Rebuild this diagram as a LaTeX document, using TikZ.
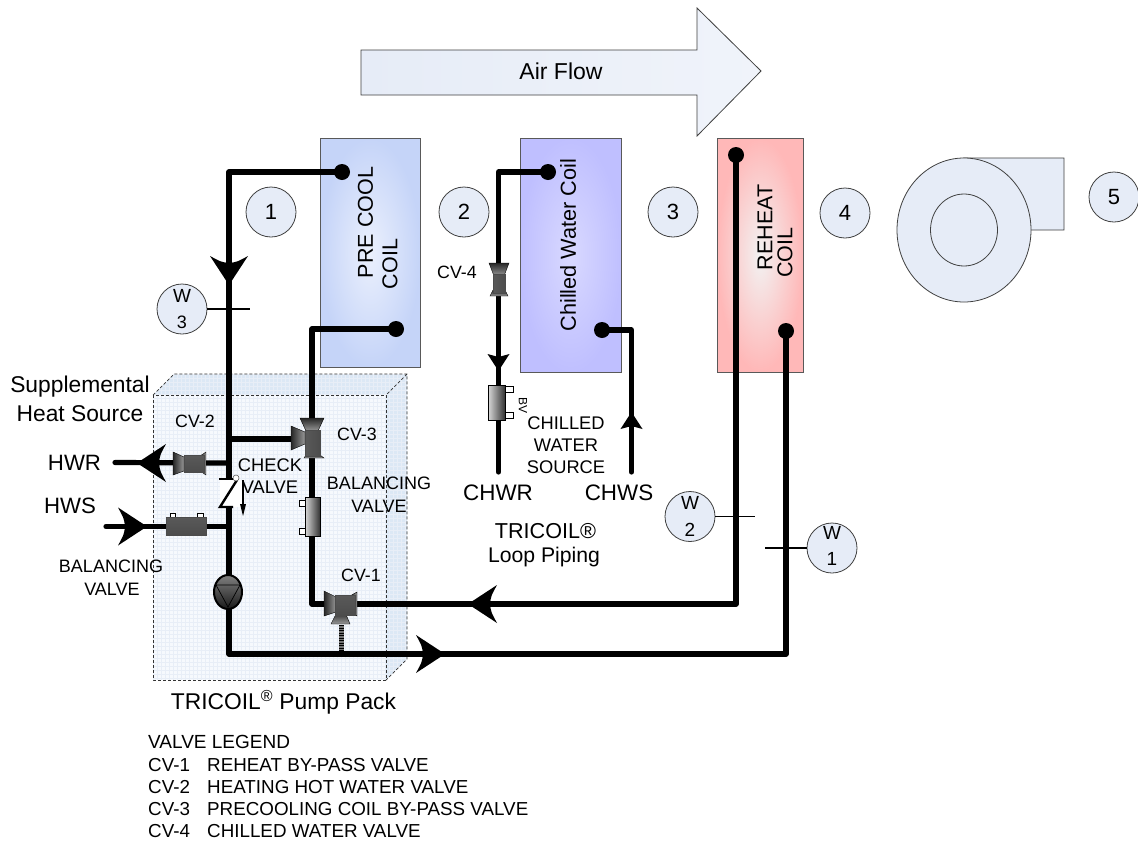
\documentclass[tikz,border=0pt]{standalone}
\usepackage{fontspec}
\setmainfont{Liberation Sans}
\newcommand{\fs}[1]{\fontsize{#1}{#1}\selectfont}
\newcommand{\pipehead}[3]{\fill[black,shift={(#1,#2)},rotate=#3] (0,0) -- (-29,19) .. controls (-23,8) .. (-22,0) .. controls (-23,-8) .. (-29,-19) -- cycle;}
\newcommand{\smallhead}[3]{\fill[black,shift={(#1,#2)},rotate=#3] (0,0) -- (-17,11) -- (-14,0) -- (-17,-11) -- cycle;}
\begin{document}
\begin{tikzpicture}[x=1pt,y=-1pt,
  pipe/.style={line width=5.2pt,line join=round,line cap=round,black},
  refcircle/.style={circle,draw=black!75,line width=0.8pt,fill=circfill,minimum size=50pt,inner sep=0pt,font=\fs{22}},
  wcircle/.style={circle,draw=black!75,line width=0.8pt,fill=circfill,minimum size=50pt,inner sep=0pt,align=center},
  lab/.style={inner sep=0pt,align=center},
  dot/.style={circle,fill=black,inner sep=0pt,minimum size=16pt},
  hbody/.style={draw=black!70,line width=0.5pt,top color=black!65,middle color=black!25,bottom color=black!70},
  vbody/.style={draw=black!70,line width=0.5pt,left color=black!65,middle color=black!25,right color=black!70},
  vbal/.style={draw=black,line width=0.5pt,left color=black!15,right color=black!80},
  funnelv/.style={draw=black,line width=0.4pt,top color=black!85,bottom color=black!40},
  funnelh/.style={draw=black,line width=0.4pt,left color=black!85,right color=black!40},
  tab/.style={draw=black,line width=1pt,fill=white}]
\definecolor{circfill}{HTML}{E6ECF7}
\definecolor{coilblue}{HTML}{C5D4F8}
\definecolor{arrowfill}{HTML}{E6ECF7}
\definecolor{boxfront}{HTML}{F6F9FD}
\definecolor{boxgrid}{HTML}{E8EEF7}
\definecolor{boxside}{HTML}{DCE8F5}
\useasboundingbox (0,0) rectangle (1138,841);
\fill[white] (0,0) rectangle (1138,841);

% air flow arrow
\draw[draw=black!75,line width=0.8pt,left color=arrowfill,right color=arrowfill!60!white] (361,50) -- (697,50) -- (697,8) -- (761,71) -- (697,136) -- (697,95) -- (361,95) -- cycle;
\node[lab,font=\fs{23}] (airflow) at (561,71) {Air Flow};

% coils
\shade[inner color=coilblue!35!white,outer color=coilblue] (320,138) rectangle (420,367);
\draw[black!65,line width=0.8pt] (320,138) rectangle (420,367);
\shade[inner color=white!85!blue,outer color=blue!25!white] (520,138) rectangle (621,372);
\draw[black!65,line width=0.8pt] (520,138) rectangle (621,372);
\shade[inner color=black!5,outer color=red!28!white] (717,138) rectangle (803,372);
\draw[black!65,line width=0.8pt] (717,138) rectangle (803,372);
\node[lab,font=\fs{21.5},rotate=90] (pre) at (365.5,222.5) {PRE COOL};
\node[lab,font=\fs{21.5},rotate=90] (precoil) at (390,264) {COIL};
\node[lab,font=\fs{21.7},rotate=90] (cwc) at (568,245) {Chilled Water Coil};
\node[lab,font=\fs{21.5},rotate=90] (reheat) at (765,227.5) {REHEAT};
\node[lab,font=\fs{21.5},rotate=90] (reheatcoil) at (785,252.5) {COIL};

% fan
\draw[black!75,line width=0.8pt,fill=circfill] (964,158) -- (1064,158) -- (1064,230) -- (1020,230) -- cycle;
\draw[black!75,line width=0.8pt,fill=circfill] (964,230) ellipse (67 and 72);
\draw[black!75,line width=0.8pt,fill=circfill] (964,230) ellipse (33.5 and 36);

% state circles
\node[refcircle] (s1) at (271,212) {1};
\node[refcircle] (s2) at (464,212) {2};
\node[refcircle] (s3) at (673,212) {3};
\node[refcircle] (s4) at (845,213) {4};
\node[refcircle] (s5) at (1114,197) {5};

% pump pack box
\fill[boxside] (153,395) -- (174,374) -- (407,374) -- (407,659) -- (386,680) -- (386,395) -- cycle;
\fill[boxfront] (153,395) rectangle (386,680);
\begin{scope}
\clip (153,395) -- (174,374) -- (407,374) -- (407,659) -- (386,680) -- (153,680) -- cycle;
\foreach \gx in {153,157,...,407} {\draw[boxgrid,line width=0.4pt] (\gx,374) -- (\gx,680);}
\foreach \gy in {374,378,...,680} {\draw[boxgrid,line width=0.4pt] (153,\gy) -- (407,\gy);}
\end{scope}
\draw[black!80,line width=0.7pt,dash pattern=on 3pt off 2pt] (153,395) rectangle (386,680);
\draw[black!80,line width=0.7pt,dash pattern=on 3pt off 2pt] (153,395) -- (174,374) -- (407,374) -- (407,659) -- (386,680) (407,374) -- (386,395);

% pipe terminals
\coordinate (pcA) at (342,172);
\coordinate (pcB) at (396,329);
\coordinate (cwA) at (548,172);
\coordinate (cwB) at (602,330);
\coordinate (rhA) at (736,155);
\coordinate (rhB) at (786,331);
\coordinate (chwr) at (498.5,472);
\coordinate (chws) at (631.5,472);
\coordinate (hwr) at (115,462.5);
\coordinate (hws) at (106,526.5);
\coordinate (tee1) at (229,439);
\coordinate (tee2) at (229,463);
\coordinate (tee3) at (229,526.5);
\coordinate (cv3) at (300,439);

% stem
\draw[black!55,line width=5pt] (341,625) -- (341,654);
\draw[black,line width=5pt,dash pattern=on 1pt off 1.5pt] (341,625) -- (341,654);

% pipes
\draw[pipe] (pcA) -| (229,654) -| (rhB);
\draw[pipe] (rhA) |- (312,604) |- (pcB);
\draw[pipe] (tee1) -- (cv3);
\draw[pipe] (hwr) -- (tee2);
\draw[pipe] (hws) -- (tee3);
\draw[pipe] (cwA) -| (chwr);
\draw[pipe] (cwB) -| (chws);
\node[dot] (dpa) at (pcA) {};
\node[dot] (dpb) at (pcB) {};
\node[dot] (dca) at (cwA) {};
\node[dot] (dcb) at (cwB) {};
\node[dot] (dra) at (rhA) {};
\node[dot] (drb) at (rhB) {};

% flow arrowheads
\pipehead{229}{285}{-90}
\pipehead{468}{604}{180}
\pipehead{445}{654}{0}
\pipehead{137}{463}{180}
\pipehead{147}{526.5}{0}
\smallhead{498.5}{371}{-90}
\smallhead{631.5}{412}{90}

% meters
\node[wcircle] (w3) at (182,309) {};
\node[wcircle] (w2) at (690,516.5) {};
\node[wcircle] (w1) at (832,548) {};
\coordinate (w3t) at (250,309);
\coordinate (w2t) at (755,516.5);
\coordinate (w1t) at (765,548);
\draw[line width=1.6pt] (w3) -- (w3t);
\draw[line width=1.6pt] (w2) -- (w2t);
\draw[line width=1.6pt] (w1) -- (w1t);
\node[lab,font=\fs{19}] (w3a) at (182,296) {W};
\node[lab,font=\fs{18}] (w3b) at (182,322) {3};
\node[lab,font=\fs{19}] (w2a) at (690,503) {W};
\node[lab,font=\fs{19}] (w2b) at (690,530) {2};
\node[lab,font=\fs{19}] (w1a) at (832,533) {W};
\node[lab,font=\fs{19}] (w1b) at (832,559) {1};

% CV-2
\draw[funnelh] (173,452) -- (184,457) -- (184,471) -- (173,475) -- cycle;
\draw[funnelh] (206,452) -- (200,456) -- (200,471) -- (206,475) -- cycle;
\draw[hbody] (184,455) rectangle (204,472);
% hws balancing
\draw[tab] (170,513) rectangle (175,518);
\draw[tab] (197,513) rectangle (203,518);
\draw[hbody] (166,517) rectangle (206,535);
% check valve
\fill[white] (220,480) rectangle (243,507);
\draw[line width=2.4pt] (219,479) -- (233,479);
\draw[line width=2.4pt,line join=miter] (237,480) -- (220,507) -- (233,507);
\draw[black!70,line width=0.5pt,fill=white] (236,478) circle (3);
\draw[line width=1.2pt] (243,480) -- (243,506);
\fill[black] (243,516) -- (240,504) -- (246,504) -- cycle;
% CV-3
\draw[funnelv] (300,418) -- (324,418) -- (318,431) -- (306,431) -- cycle;
\draw[funnelh] (291,426) -- (305,432) -- (305,444) -- (291,450) -- cycle;
\draw[funnelv] (304,458) -- (308,452) -- (316,452) -- (324,458) -- cycle;
\draw[vbody] (305,430) rectangle (320,456);
% vertical balancing
\draw[tab] (299,500) rectangle (305,506);
\draw[tab] (299,528) rectangle (305,534);
\draw[vbal] (305,497) rectangle (320,536);
% CV-1
\draw[funnelh] (324,591) -- (336,597) -- (336,612) -- (324,616) -- cycle;
\draw[funnelv] (331,624) -- (337,612) -- (345,612) -- (350,624) -- cycle;
\draw[funnelh] (357,592) -- (350,596) -- (350,612) -- (357,616) -- cycle;
\draw[hbody] (335,595) rectangle (355,615);
% pump
\draw[black,line width=2pt,top color=black!50,bottom color=black!90] (228,592) ellipse (14 and 17);
\draw[black,line width=0.7pt] (216,585) -- (240,585) -- (228,607) -- cycle;
% CV-4
\draw[funnelv] (489,263) -- (509,263) -- (504,276) -- (494,276) -- cycle;
\draw[funnelv] (490,296) -- (493,290) -- (505,290) -- (508,296) -- cycle;
\draw[vbody] (493,274) rectangle (505,293);
% chilled balancing
\draw[tab] (505,386) rectangle (513,392);
\draw[tab] (505,412) rectangle (513,418);
\draw[vbal] (488,385) rectangle (505,420);

% labels
\node[lab,font=\fs{22.8}] (sup) at (80,387) {Supplemental};
\node[lab,font=\fs{22.8}] (hss) at (80,414) {Heat Source};
\node[lab,font=\fs{22.2}] (lhwr) at (74.5,463) {HWR};
\node[lab,font=\fs{22.2}] (lhws) at (70,506) {HWS};
\node[lab,font=\fs{17.8}] (lcv2) at (195,421) {CV-2};
\node[lab,font=\fs{17.8}] (lcv3) at (357,434) {CV-3};
\node[lab,font=\fs{17.8}] (lcv1) at (361,575) {CV-1};
\node[lab,font=\fs{17.8}] (lcv4) at (457,272) {CV-4};
\node[lab,font=\fs{18.3}] (chk) at (270,465) {CHECK};
\node[lab,font=\fs{18.3}] (chkv) at (270,487) {VALVE};
\node[lab,font=\fs{18}] (bal) at (379,483) {BALANCING};
\node[lab,font=\fs{18}] (balv) at (379,506) {VALVE};
\node[lab,font=\fs{18}] (bal2) at (111,566) {BALANCING};
\node[lab,font=\fs{18}] (bal2v) at (112,589) {VALVE};
\node[lab,font=\fs{12},rotate=-90] (bv) at (523,405) {BV};
\node[lab,font=\fs{18.3}] (c1) at (566,423) {CHILLED};
\node[lab,font=\fs{18.3}] (c2) at (566,445) {WATER};
\node[lab,font=\fs{18.3}] (c3) at (566,467) {SOURCE};
\node[lab,font=\fs{22.4}] (lchwr) at (498,493) {CHWR};
\node[lab,font=\fs{22.4}] (lchws) at (619,493) {CHWS};
\node[lab,font=\fs{21.6}] (tl) at (545.5,531) {TRICOIL®};
\node[lab,font=\fs{21.2}] (tl2) at (544,557) {Loop Piping};
\node[lab,font=\fs{22.8}] (tp) at (283.5,702.5) {TRICOIL\textsuperscript{®} Pump Pack};
\node[lab,anchor=west,font=\fs{19}] (lg0) at (148,742) {VALVE LEGEND};
\node[lab,anchor=west,font=\fs{18.8}] (lg1) at (148,765) {CV-1};
\node[lab,anchor=west,font=\fs{18.8}] (lg1t) at (207,765) {REHEAT BY-PASS VALVE};
\node[lab,anchor=west,font=\fs{18.8}] (lg2) at (148,787) {CV-2};
\node[lab,anchor=west,font=\fs{18.8}] (lg2t) at (207,787) {HEATING HOT WATER VALVE};
\node[lab,anchor=west,font=\fs{18.8}] (lg3) at (148,809) {CV-3};
\node[lab,anchor=west,font=\fs{18.8}] (lg3t) at (207,809) {PRECOOLING COIL BY-PASS VALVE};
\node[lab,anchor=west,font=\fs{18.8}] (lg4) at (148,831) {CV-4};
\node[lab,anchor=west,font=\fs{18.8}] (lg4t) at (207,831) {CHILLED WATER VALVE};
\end{tikzpicture}
\end{document}
